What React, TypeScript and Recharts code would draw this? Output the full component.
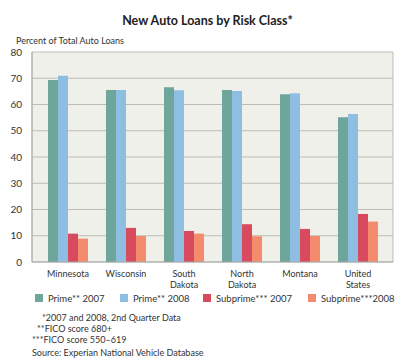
import { Bar, BarChart, CartesianGrid, XAxis, YAxis } from "recharts"

const states = ["Minnesota", "Wisconsin", "South Dakota", "North Dakota", "Montana", "United States"]
const prime2007 = [69.3, 65.5, 66.6, 65.5, 63.9, 55.1]
const prime2008 = [71.0, 65.5, 65.4, 65.1, 64.3, 56.4]
const subprime2007 = [10.8, 13.0, 11.8, 14.4, 12.6, 18.3]
const subprime2008 = [8.9, 9.9, 10.8, 9.8, 9.9, 15.4]
const yTicks = [0, 10, 20, 30, 40, 50, 60, 70, 80]

const seriesNames = ["Prime** 2007", "Prime** 2008", "Subprime*** 2007", "Subprime***2008"]
const seriesColors = ["#6ea69b", "#8ebfe2", "#d84b5f", "#f48b6d"]

const data = states.map((name, i) => ({
    name,
    p07: prime2007[i],
    p08: prime2008[i],
    s07: subprime2007[i],
    s08: subprime2008[i],
}))

const font = "Lato, 'Noto Sans', sans-serif"

function StateTick(props: any) {
    const { x, y, payload } = props
    const lines = String(payload.value).split(" ")
    return (
        <text x={x} y={y + 7} textAnchor="middle" fontSize={9} fill="#333" fontFamily={font}>
            {lines.map((l, i) => (
                <tspan key={i} x={x} dy={i === 0 ? 0 : 10.5}>
                    {l}
                </tspan>
            ))}
        </text>
    )
}

// legend drawn separately so it does not eat into the plot area
function LegendRow() {
    const xs = [35, 120, 203, 308]
    return (
        <svg width={415} height={14} style={{ position: "absolute", left: 0, top: 291 }}>
            {seriesNames.map((n, i) => (
                <g key={i}>
                    <rect x={xs[i]} y={3} width={8} height={8} fill={seriesColors[i]} />
                    <text x={xs[i] + 13} y={11} fontSize={9.5} fill="#333" fontFamily={font}>
                        {n}
                    </text>
                </g>
            ))}
        </svg>
    )
}

export default function App() {
    return (
        <div style={{ position: "absolute", left: 0, top: 0, width: 415, height: 364, background: "#fff", fontFamily: font }}>
            <div style={{ position: "absolute", left: 0, width: 415, top: 13, textAlign: "center", fontSize: 12.5, fontWeight: 700, color: "#222" }}>
                New Auto Loans by Risk Class*
            </div>
            <div style={{ position: "absolute", left: 16, top: 35, fontSize: 9, color: "#333" }}>Percent of Total Auto Loans</div>
            <BarChart
                width={415}
                height={364}
                data={data}
                margin={{ top: 52, right: 22, bottom: 72, left: 6 }}
                barSize={10}
                barGap={0}
            >
                <CartesianGrid fill="#eff0ea" stroke="#bdbdb5" verticalPoints={[32, 393]} />
                <XAxis
                    dataKey="name"
                    interval={0}
                    tick={<StateTick />}
                    tickLine={false}
                    axisLine={{ stroke: "#aaa" }}
                    padding={{ left: 7, right: 6 }}
                />
                <YAxis
                    width={26}
                    domain={[0, 80]}
                    ticks={yTicks}
                    tickLine={false}
                    axisLine={{ stroke: "#aaa" }}
                    tick={{ fontSize: 10, fill: "#333", fontFamily: font }}
                    tickMargin={4}
                />
                <Bar dataKey="p07" name={seriesNames[0]} fill={seriesColors[0]} isAnimationActive={false} />
                <Bar dataKey="p08" name={seriesNames[1]} fill={seriesColors[1]} isAnimationActive={false} />
                <Bar dataKey="s07" name={seriesNames[2]} fill={seriesColors[2]} isAnimationActive={false} />
                <Bar dataKey="s08" name={seriesNames[3]} fill={seriesColors[3]} isAnimationActive={false} />
            </BarChart>
            <LegendRow />
            <div style={{ position: "absolute", left: 32, top: 312, fontSize: 9, color: "#333", lineHeight: "11px" }}>
                <div style={{ paddingLeft: 10 }}>*2007 and 2008, 2nd Quarter Data</div>
                <div style={{ paddingLeft: 5 }}>**FICO score 680+</div>
                <div>***FICO score 550–619</div>
                <div style={{ marginTop: 2 }}>Source: Experian National Vehicle Database</div>
            </div>
        </div>
    )
}
